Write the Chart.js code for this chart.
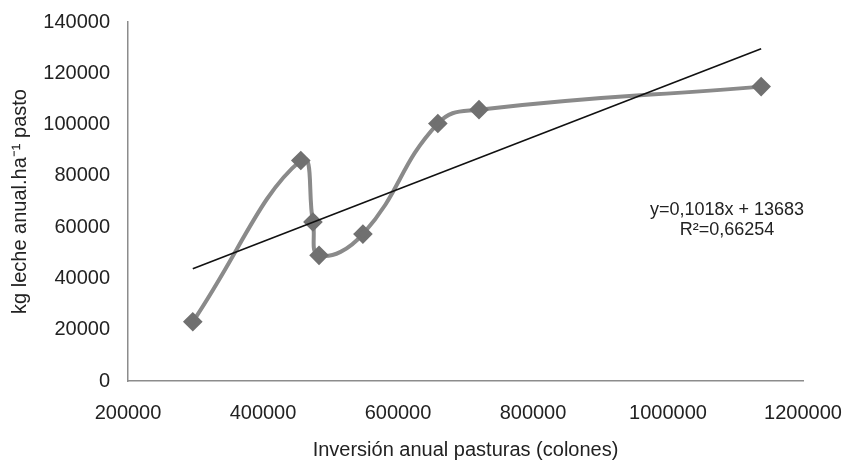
<!DOCTYPE html>
<html>
<head>
<meta charset="utf-8">
<script src="https://cdn.jsdelivr.net/npm/chart.js@4/dist/chart.umd.min.js"></script>
<style>
  html, body { margin: 0; padding: 0; background: #fff; }
  #wrap { width: 846px; height: 462px; }
</style>
</head>
<body>
<div id="wrap"><canvas id="chart" width="846" height="462"></canvas></div>
<script>
// values
const inversion = [296000, 456000, 474000, 483000, 548000, 659000, 720000, 1138000];
const lecheKg = [23100, 86000, 62000, 49000, 57300, 100400, 105800, 114800];
// trendline as printed on the chart
const trendSlope = 0.1018;
const trendIntercept = 13683;
const trendLabel = ['y=0,1018x + 13683', 'R\u00b2=0,66254'];

const font = "'Liberation Sans', Arial, sans-serif";
const points = inversion.map((x, i) => ({x: x, y: lecheKg[i]}));
const xFirst = inversion[0], xLast = inversion[inversion.length - 1];
const trend = [xFirst, xLast].map(x => ({x: x, y: trendSlope * x + trendIntercept}));

const eqText = {
    id: 'eqText',
    afterDraw(chart) {
        const c = chart.ctx;
        c.save();
        c.font = '18px ' + font;
        c.fillStyle = '#222';
        c.textAlign = 'center';
        c.textBaseline = 'middle';
        c.fillText(trendLabel[0], 727, 210);
        c.fillText(trendLabel[1], 727, 230);
        c.restore();
    }
};

new Chart(document.getElementById('chart').getContext('2d'), {
    type: 'scatter',
    data: {
        datasets: [{
            data: points,
            showLine: true,
            tension: 0.45,
            borderColor: '#8a8a8a',
            borderWidth: 4,
            pointStyle: 'rectRot',
            pointRadius: 7,
            pointBackgroundColor: '#707070',
            pointBorderColor: '#707070',
            order: 1
        }, {
            data: trend,
            showLine: true,
            borderColor: '#111',
            borderWidth: 1.6,
            pointRadius: 0,
            order: 0
        }]
    },
    options: {
        responsive: false,
        animation: false,
        layout: { padding: { left: 0, right: 43, top: 13, bottom: 0 } },
        plugins: { legend: { display: false }, tooltip: { enabled: false } },
        scales: {
            x: {
                type: 'linear',
                min: 200000, max: 1200000,
                afterFit: s => { s.height = 81; s.paddingLeft = 0; s.paddingRight = 0; },
                grid: { display: false },
                border: { color: '#8c8c8c', width: 1.5 },
                ticks: {
                    stepSize: 200000, padding: 12, color: '#222',
                    font: { family: font, size: 20 },
                    callback: v => String(v)
                },
                title: {
                    display: true, text: 'Inversión anual pasturas (colones)',
                    color: '#222', font: { family: font, size: 20 },
                    padding: { top: 4, bottom: 0 }
                }
            },
            y: {
                min: 0, max: 140000,
                afterFit: s => { s.width = 128; },
                grid: { display: false },
                border: { color: '#8c8c8c', width: 1.5 },
                ticks: {
                    stepSize: 20000, padding: 10, color: '#222',
                    font: { family: font, size: 20 },
                    callback: v => String(v)
                },
                title: {
                    display: true, text: 'kg leche anual.ha\u207b\u00b9 pasto',
                    color: '#222', font: { family: font, size: 20 },
                    padding: { top: 8, bottom: 4 }
                }
            }
        }
    },
    plugins: [eqText]
});
</script>
</body>
</html>
